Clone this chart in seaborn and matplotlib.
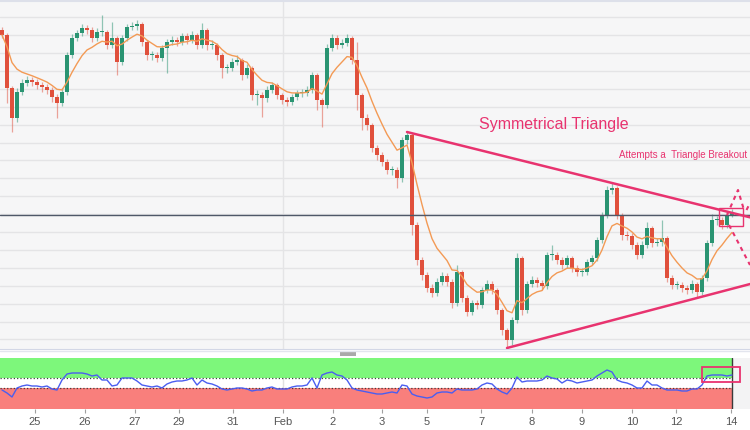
import numpy as np
import pandas as pd
import matplotlib
matplotlib.use("Agg")
import matplotlib.pyplot as plt
from matplotlib.patches import Rectangle
from matplotlib.lines import Line2D
import seaborn as sns

# ---------------- data ----------------
first_open = 320
closes = [315,262,232,258,267,270,268,265,263,260,
          253,247,258,295,312,317,322,320,312,318,
          318,305,312,288,312,323,324,326,308,295,
          295,292,302,308,310,308,314,310,315,305,
          320,305,305,295,282,282,288,290,275,282,
          255,255,252,260,265,255,250,248,253,257,
          257,260,275,250,245,302,312,305,307,312,
          290,255,232,225,202,195,188,180,180,172,
          210,215,125,90,75,62,57,68,74,68,
          47,78,52,38,47,45,60,66,60,40,
          20,10,30,92,40,66,70,67,64,95,
          95,90,85,92,82,78,78,88,92,110,
          135,160,162,135,115,114,105,95,105,122,
          107,108,112,72,65,65,62,60,66,58,
          72,107,130,130,125,135,138]
highs = [323,317,264,262,271,274,273,271,268,266,
         263,256,262,298,316,320,326,325,323,322,
         335,320,328,314,315,326,328,330,328,310,
         299,298,305,311,314,313,317,317,319,317,
         327,322,310,307,297,286,292,295,292,286,
         284,260,258,264,268,267,257,253,256,260,
         261,264,278,277,252,306,316,315,311,316,
         314,308,257,236,227,205,198,191,184,183,
         213,218,217,128,93,78,66,72,78,77,
         71,85,80,55,50,50,63,70,69,62,
         42,22,33,97,94,69,74,73,70,98,
         105,98,93,95,94,85,82,91,95,113,
         138,164,167,164,137,119,117,108,109,128,
         124,112,130,114,75,69,68,65,70,68,
         75,110,136,134,133,138,141]
lows = [312,247,218,228,255,264,264,261,258,256,
        248,232,244,255,292,309,314,316,308,309,
        314,301,302,275,285,309,320,320,304,290,
        290,288,289,277,305,304,305,306,307,301,
        302,300,301,290,272,277,279,285,270,272,
        250,245,233,248,257,251,246,244,245,250,
        253,254,257,240,223,242,299,301,302,304,
        286,240,220,220,198,190,184,176,175,162,
        168,206,115,85,70,58,53,54,65,64,
        42,44,48,34,35,41,42,57,56,36,
        15,2,5,27,35,37,63,63,60,61,
        90,86,81,82,78,74,74,75,85,89,
        107,132,156,131,110,110,101,91,92,102,
        103,104,104,68,61,61,58,56,57,52,
        55,69,104,125,121,122,133]
osc = [36,30,22,40,44,46,44,44,42,44,
       38,36,56,68,70,70,70,68,64,66,
       56,56,44,46,60,60,60,54,46,44,
       42,44,40,48,52,54,54,56,60,46,
       56,50,48,44,38,36,38,40,40,38,
       34,36,36,40,42,38,38,38,42,44,
       44,46,60,40,66,70,72,66,64,56,
       40,36,34,32,30,28,28,30,32,30,
       46,44,28,24,22,20,22,30,32,32,
       30,38,36,36,36,38,46,50,48,38,
       32,28,40,62,52,54,54,54,56,64,
       60,58,50,56,54,50,52,54,56,64,
       70,76,72,56,52,50,46,40,40,54,
       46,46,40,36,36,36,34,34,38,38,
       46,64,66,66,66,64,66]
tick_labels = ["25", "26", "27", "29", "31", "Feb", "2", "3", "5", "7",
               "8", "9", "10", "12", "14"]
tick_pos = [6.6, 16.6, 26.6, 35.4, 46.2, 56.2, 66.2, 76, 85, 95.8,
            106, 116, 126, 134.8, 145.8]
month_start = 56.2
last_price = 135
upper_anchors = [81, 122]   # candles whose highs define the upper trendline
lower_anchors = [101, 139]  # candles whose lows define the lower trendline
proj_up_x = [145, 147.2, 148.4]
proj_up_y = [135, 160, 140]
proj_up2_x = [148.9, 149.6]
proj_up2_y = [140, 147]
proj_dn_x = [145.4, 149.6]
proj_dn_y = [125, 85]
title_text = "Symmetrical Triangle"
note_text = "Attempts a  Triangle Breakout"

# ---------------- style ----------------
sns.set_style("white")
plt.rcParams['font.family'] = ['Liberation Sans', 'DejaVu Sans']

GREEN = '#2a9472'
RED = '#e0503c'
PINK = '#e8336f'
ORANGE = '#f39a55'

W, H = 750, 430
fig = plt.figure(figsize=(7.5, 4.3), dpi=100)
fig.patch.set_facecolor('white')

XMIN, XMAX = -0.4, 149.6
ax = fig.add_axes([0, 81 / H, 1, 349 / H])
ax2 = fig.add_axes([0, 21 / H, 1, 51 / H])

# ---------------- main panel ----------------
n = len(closes)
idx = np.arange(n)
c = np.array(closes, float)
o = np.r_[first_open, c[:-1]]
hi = np.array(highs, float)
lo = np.array(lows, float)
up = c >= o
col = np.where(up, GREEN, RED)

ax.set_facecolor('#f6f6f7')
ax.set_xlim(XMIN, XMAX)
ax.set_ylim(1, 350)
ax.set_yticks(np.arange(332.7, 0, -17.9))
ax.set_xticks([month_start])
ax.grid(True, color='#e4e4e6', lw=1)
ax.tick_params(left=False, bottom=False, labelleft=False, labelbottom=False)
for s in ax.spines.values():
    s.set_visible(False)
ax.spines['bottom'].set_visible(True)
ax.spines['bottom'].set_color('#d3d7e6')

ax.vlines(idx, lo, hi, colors=col, lw=0.9, alpha=0.5, zorder=3)
ax.bar(idx, np.maximum(np.abs(c - o), 1.0), bottom=np.minimum(o, c),
       width=0.62, color=col, lw=0, zorder=4)

ma = pd.Series(c).ewm(span=8, adjust=False).mean()
sns.lineplot(x=idx, y=ma.values, ax=ax, color=ORANGE, lw=1.0, zorder=5)

ax.axhline(last_price, color='#4f5868', lw=1.0, zorder=5)

# trendlines
ux0, ux1 = upper_anchors
uy0, uy1 = hi[ux0], hi[ux1]
us = (uy1 - uy0) / (ux1 - ux0)
ax.plot([ux0, XMAX], [uy0, uy0 + us * (XMAX - ux0)], color=PINK, lw=1.8, zorder=6)
lx0, lx1 = lower_anchors
ly0, ly1 = lo[lx0], lo[lx1]
ls_ = (ly1 - ly0) / (lx1 - lx0)
ax.plot([lx0, XMAX], [ly0, ly0 + ls_ * (XMAX - lx0)], color=PINK, lw=1.8, zorder=6)

# projection
ax.plot(proj_up_x, proj_up_y, color=PINK, lw=1.5, ls=(0, (2, 2)), zorder=6)
ax.plot(proj_up2_x, proj_up2_y, color=PINK, lw=1.5, ls=(0, (2, 2)), zorder=6)
ax.plot(proj_dn_x, proj_dn_y, color=PINK, lw=1.5, ls=(0, (2, 2)), zorder=6)
ax.add_patch(Rectangle((143.4, 124), 4.8, 18, fill=False, ec=PINK, lw=1.0, zorder=7))

ax.text(110.4, 226, title_text, ha='center', va='center', color=PINK,
        fontsize=11.5, zorder=8)
ax.text(123.4, 195, note_text, ha='left', va='center', color=PINK,
        fontsize=7.0, zorder=8)

# ---------------- oscillator panel ----------------
BAND_END = 146.0
frac = (BAND_END - XMIN) / (XMAX - XMIN)
ax2.set_xlim(XMIN, XMAX)
ax2.set_ylim(-2, 100)
ax2.set_facecolor('white')
for s in ax2.spines.values():
    s.set_visible(False)
ax2.axhspan(60, 100, xmin=0, xmax=frac, color='#7df77b', lw=0, zorder=1)
ax2.axhspan(-2, 40, xmin=0, xmax=frac, color='#f97f7c', lw=0, zorder=1)
ax2.axhline(60, xmin=0, xmax=frac, color='#3a4a3a', lw=0.9, ls=':', zorder=2)
ax2.axhline(40, xmin=0, xmax=frac, color='#4a3a3a', lw=0.9, ls=':', zorder=2)
ax2.axvspan(BAND_END, XMAX, color='#f3f3f4', lw=0, zorder=1)
ax2.axvline(BAND_END, color='#3a3a3a', lw=1.0, zorder=3)
ax2.axvline(month_start, color='#e0e0e0', lw=1.0, zorder=0.5)
sns.lineplot(x=idx, y=np.array(osc, float), ax=ax2, color='#4a5ef0', lw=1.0, zorder=4)
ax2.add_patch(Rectangle((140, 52), 7.6, 30, fill=False, ec=PINK, lw=1.3, zorder=6,
                        clip_on=False))

ax2.set_yticks([])
ax2.set_xticks(tick_pos)
ax2.set_xticklabels(tick_labels)
ax2.tick_params(axis='x', length=3, color='#a0a0a0', labelcolor='#555555',
                labelsize=8, pad=3, bottom=True)
ax2.set_xlabel('')
ax2.set_ylabel('')
ax.set_xlabel('')
ax.set_ylabel('')

# separator strip and handle
fig.add_artist(Line2D([0, 1], [(H - 351) / H] * 2, transform=fig.transFigure,
                      color='#e3e5ee', lw=1))
fig.add_artist(Rectangle((340 / W, (H - 356) / H), 16 / W, 4 / H,
                         transform=fig.transFigure, color='#a9a9a9', lw=0))
fig.add_artist(Line2D([0, 1], [(H - 1) / H] * 2, transform=fig.transFigure,
                      color='#dde0ea', lw=1.5))

fig.savefig('out.png', dpi=100)
